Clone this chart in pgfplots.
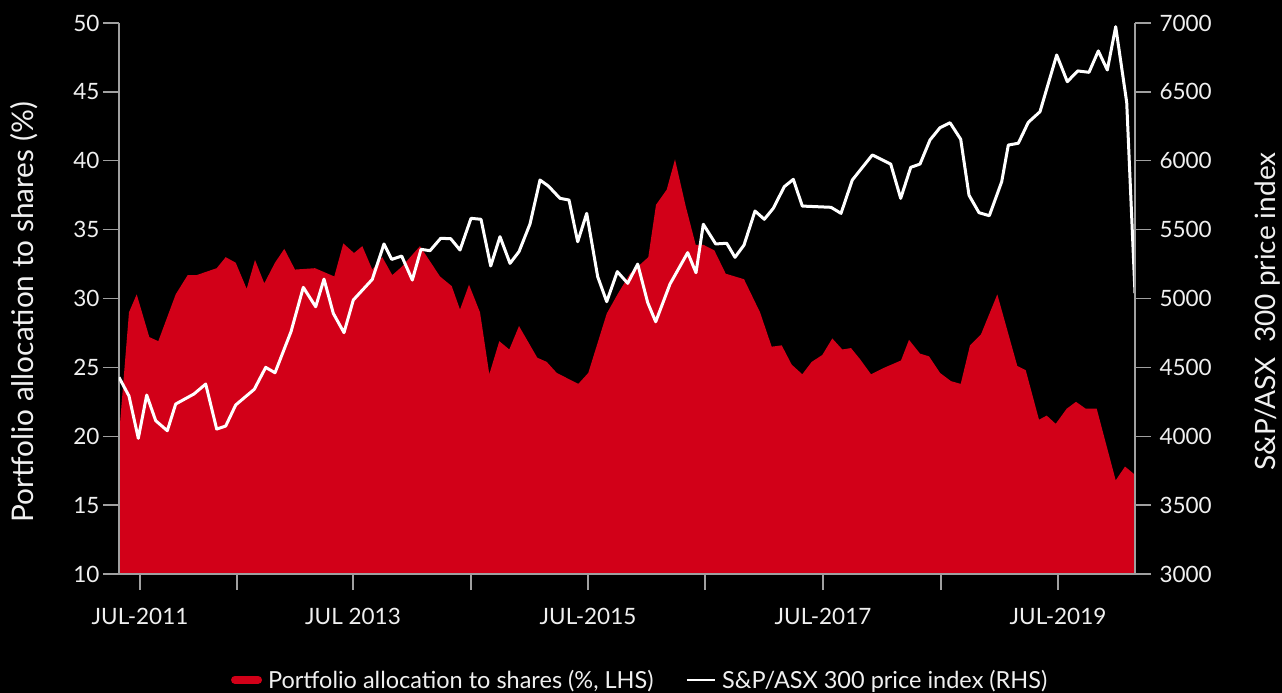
\documentclass[border=0pt]{standalone}
\usepackage{fontspec}
\setmainfont{Lato}
\usepackage{pgfplots}
\pgfplotsset{compat=1.18}
\definecolor{allocred}{RGB}{210,0,24}
\definecolor{axgray}{RGB}{160,160,160}
\definecolor{txt}{RGB}{240,240,240}
\begin{document}
\begin{tikzpicture}
\fill[black] (-119pt,-119pt) rectangle (1163pt,574pt);
\useasboundingbox (-119pt,-119pt) rectangle (1163pt,574pt);
\pgfplotsset{
  base/.style={
    scale only axis, width=1016pt, height=551pt,
    xmin=119, xmax=1135,
    axis on top,
    axis line style={axgray, line width=1.5pt, -},
    tick style={axgray, line width=1.5pt},
    major tick length=16pt,
    ticklabel style={font=\fontsize{22.5}{27}\selectfont, text=txt},
    /pgf/number format/assume math mode=true,
    /pgf/number format/1000 sep={},
  }
}
\begin{axis}[base,
  axis x line*=bottom, axis y line*=left,
  xtick align=outside, ytick align=outside,
  ymin=10, ymax=50, ytick={10,15,...,50},
  xtick={140,237,353,471,588,705,823,941,1058},
  xticklabels={JUL-2011,{},JUL 2013,{},JUL-2015,{},JUL-2017,{},JUL-2019},
  xticklabel style={yshift=-15pt},
  ylabel={Portfolio allocation to shares (\%)},
  ylabel style={at={(axis description cs:-0.0935,0.475)}, anchor=center, font=\fontsize{29.8}{36}\selectfont, text=txt},
]
\addplot[fill=allocred, draw=none] coordinates {
(119,20.0) (129,29.0) (136.7,30.3) (149.3,27.2) (158.3,26.9) (175.7,30.3) (187.7,31.7) (196.7,31.7)
(216.7,32.2) (225.7,33.0) (235.7,32.6) (246.7,30.7) (255,32.8) (264.3,31.1) (275,32.6) (284.3,33.6)
(295,32.1) (315,32.2) (334.3,31.6) (343.3,34.0) (354,33.3) (362.3,33.8) (372.3,32.1) (382.3,33.0)
(392.3,31.7) (401.7,32.3) (420,33.8) (440,31.6) (451.7,30.9) (460,29.2) (469,31.0) (480,29.0)
(489.3,24.5) (499.3,26.9) (509.3,26.3) (519,28.0) (537.3,25.7) (546.7,25.4) (556.7,24.6) (578.3,23.8)
(588.3,24.6) (606.7,28.9) (618.3,30.4) (630,31.8) (648.3,33.0) (656,36.8) (666.7,37.9) (675,40.1)
(685.7,36.7) (695.7,33.9) (703.3,33.9) (714.3,33.5) (725.7,31.8) (744,31.4) (760,29.0) (771.7,26.5)
(781.7,26.6) (791.7,25.2) (802.3,24.5) (811.7,25.4) (822.3,25.9) (832.3,27.1) (842.3,26.3) (851,26.4)
(860,25.6) (871,24.5) (885,25.0) (901,25.5) (909,27.0) (920,26.0) (929,25.8) (940,24.6)
(951,24.0) (960.7,23.8) (970,26.6) (981,27.4) (997.3,30.3) (1017.3,25.1) (1025.7,24.8) (1039,21.2)
(1046.7,21.5) (1055.7,20.9) (1066.7,22.0) (1076,22.5) (1085.7,22.0) (1096.7,22.0) (1115.7,16.8) (1125,17.8)
(1135,17.2)
} \closedcycle;
\end{axis}
\begin{axis}[base,
  axis x line=none, axis y line*=right,
  ytick align=outside,
  ymin=3000, ymax=7000, ytick={3000,3500,...,7000},
  yticklabel style={xshift=5pt},
  ylabel={S\&P/ASX\ \ 300 price index},
  ylabel style={at={(axis description cs:1.130,0.476)}, anchor=center, rotate=0, font=\fontsize{28}{34}\selectfont, text=txt},
  legend style={at={(axis description cs:0.513,-0.192)}, anchor=center, draw=none, fill=none,
    text=txt, font=\fontsize{23.5}{28}\selectfont, legend columns=2,
    /tikz/every odd column/.append style={column sep=4pt},
    /tikz/every even column/.append style={column sep=30pt}},
]
\addlegendimage{legend image code/.code={\draw[allocred, line width=8pt, line cap=round] (4pt,0pt) -- (27pt,0pt);}}
\addlegendentry{Portfolio allocation to shares (\%, LHS)}
\addplot[white, line width=3pt, line join=round,
  legend image code/.code={\draw[white, line width=2.5pt] (0pt,0pt) -- (28pt,0pt);}] coordinates {
(119,4428) (129,4292) (138.3,3985) (146.7,4299) (155.7,4113) (167.3,4040) (175.7,4234) (194,4307)
(205.7,4379) (216.7,4052) (225.7,4074) (235.7,4227) (254.3,4341) (265.7,4500) (275,4461) (291,4759)
(303.3,5081) (315.7,4940) (324,5141) (333.3,4892) (344,4752) (353.3,4989) (372.3,5139) (384,5396)
(391.7,5284) (401.7,5308) (412.3,5134) (421,5357) (430,5347) (440.7,5437) (450.7,5434) (460,5352)
(471,5582) (481,5575) (490.7,5236) (500,5449) (510,5255) (519,5340) (530,5541) (540,5860)
(548.3,5817) (560,5727) (569,5715) (577.7,5412) (586.7,5618) (597.7,5158) (606.7,4977) (617.3,5195)
(627.7,5110) (637.7,5250) (647.7,4970) (655.7,4831) (670,5105) (687.7,5333) (696,5187) (703.3,5539)
(715.7,5396) (726.7,5401) (735,5299) (744,5388) (755,5635) (764.3,5575) (773.3,5655) (784.3,5812)
(793.3,5865) (802.3,5671) (831,5662) (841,5618) (852.3,5860) (872.3,6042) (890.7,5976) (900.7,5727)
(910.7,5952) (920,5976) (930,6151) (940,6240) (950,6276) (960.7,6156) (969,5750) (979,5623)
(989.3,5601) (1001.7,5848) (1008.3,6114) (1018.3,6127) (1028.3,6279) (1040,6356) (1056.7,6768) (1067.3,6574)
(1077.7,6652) (1089,6642) (1098.3,6797) (1107.3,6659) (1115.7,6973) (1126.7,6424) (1135,5038)
};
\addlegendentry{S\&P/ASX 300 price index (RHS)}
\end{axis}
\end{tikzpicture}
\end{document}
